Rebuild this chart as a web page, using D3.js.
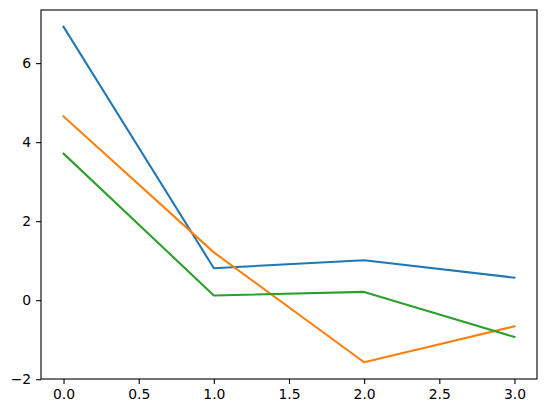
<!DOCTYPE html>
<html><head><meta charset="utf-8">
<script src="https://cdn.jsdelivr.net/npm/d3@7"></script>
<style>body{margin:0;background:#fff}svg{display:block}</style>
</head><body>
<script>
const xs = [0, 1, 2, 3];
const seriesA = [6.92, 0.81, 1.01, 0.57];
const seriesB = [4.65, 1.21, -1.57, -0.66];
const seriesC = [3.71, 0.12, 0.21, -0.93];
const colors = ["#1f77b4", "#ff7f0e", "#2ca02c"];
const xTicks = [0, 0.5, 1, 1.5, 2, 2.5, 3];
const yTicks = [-2, 0, 2, 4, 6];

const W = 546, H = 413;
const L = 41, R = 537, T = 10, B = 379;
const svg = d3.select("body").append("svg").attr("width", W).attr("height", H);

const allY = seriesA.concat(seriesB, seriesC);
const ymin = d3.min(allY), ymax = d3.max(allY);
const ym = (ymax - ymin) * 0.05;
const x = d3.scaleLinear().domain([-0.15, 3.15]).range([L, R]);
const y = d3.scaleLinear().domain([ymin - ym, ymax + ym]).range([B, T]);

const fmtX = d => d.toFixed(1);
const fmtY = d => (d < 0 ? "\u2212" + Math.abs(d) : String(d));

const line = d3.line().x((d, i) => x(xs[i])).y(d => y(d));
[seriesA, seriesB, seriesC].forEach((s, k) => {
  svg.append("path").datum(s).attr("d", line).attr("fill", "none")
    .attr("stroke", colors[k]).attr("stroke-width", 2.08)
    .attr("stroke-linejoin", "round").attr("stroke-linecap", "square");
});

const xa = svg.append("g").attr("transform", `translate(0,${B})`)
  .call(d3.axisBottom(x).tickValues(xTicks).tickFormat(fmtX).tickSizeInner(4.9).tickSizeOuter(0).tickPadding(4.9));
const ya = svg.append("g").attr("transform", `translate(${L},0)`)
  .call(d3.axisLeft(y).tickValues(yTicks).tickFormat(fmtY).tickSizeInner(4.9).tickSizeOuter(0).tickPadding(4.9));
[xa, ya].forEach(g => {
  g.select(".domain").remove();
  g.selectAll("line").attr("stroke", "#000").attr("stroke-width", 1.1);
  g.selectAll("text").attr("font-family", "DejaVu Sans").attr("font-size", 13.9).attr("fill", "#000");
});

svg.append("rect").attr("x", L).attr("y", T).attr("width", R - L).attr("height", B - T)
  .attr("fill", "none").attr("stroke", "#000").attr("stroke-width", 1.1);
</script>
</body></html>
